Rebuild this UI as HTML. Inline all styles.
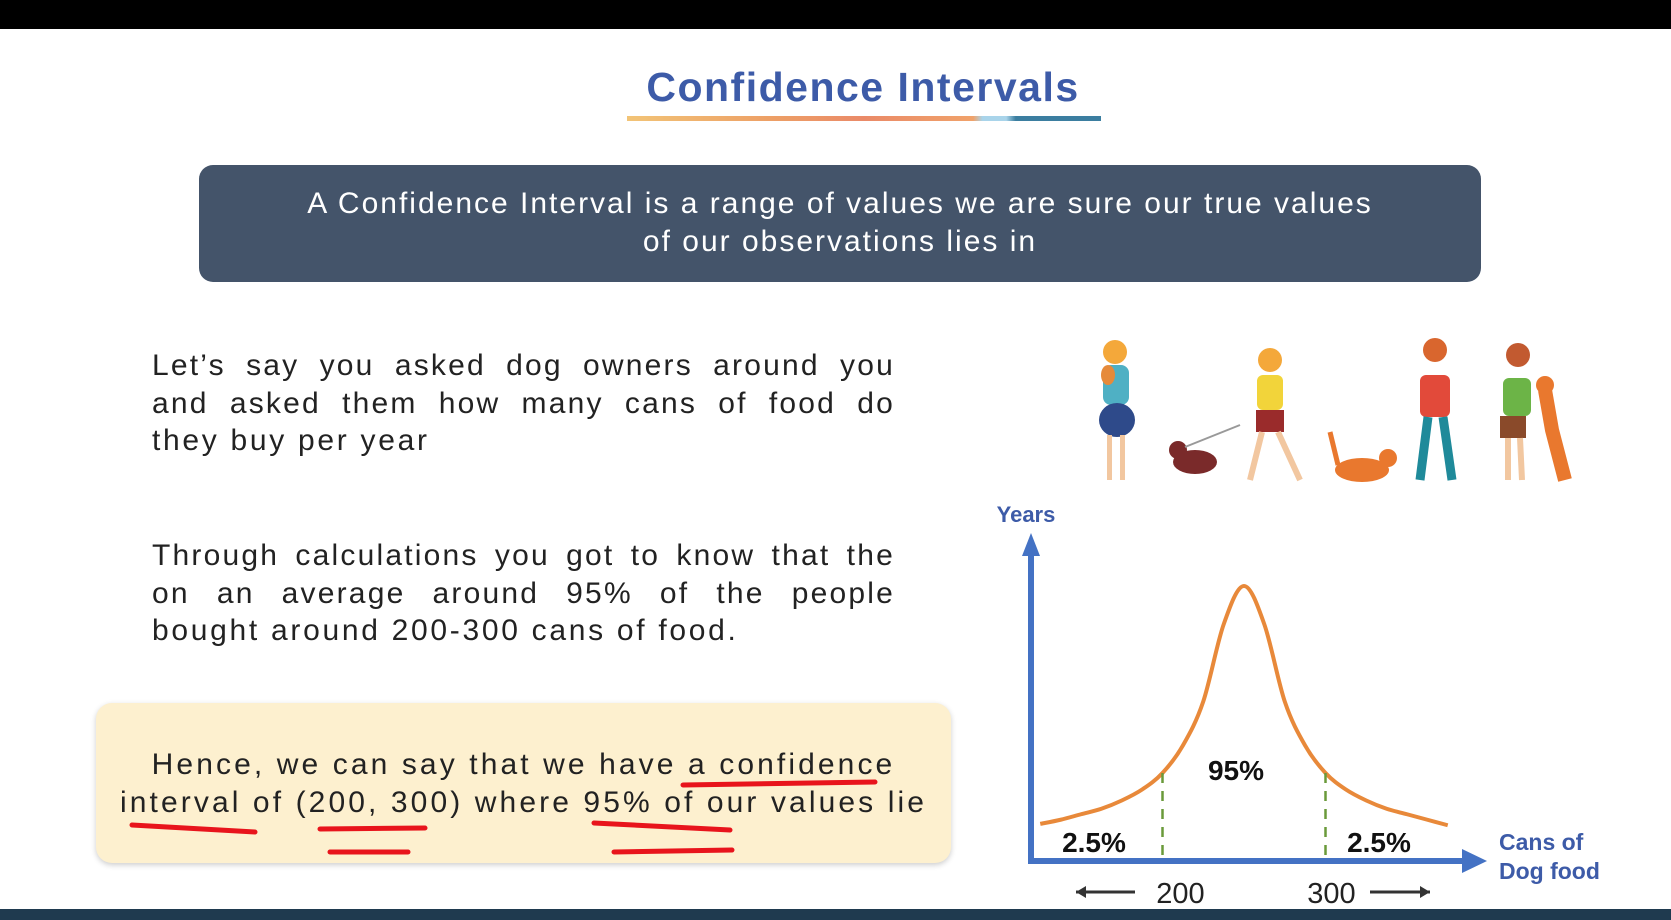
<!DOCTYPE html>
<html><head><meta charset="utf-8"><style>
body{margin:0;width:1671px;height:920px;overflow:hidden;background:#fff;position:relative;font-family:"Liberation Sans",sans-serif}
.abs{position:absolute}
.p{position:absolute;left:152px;width:743px;font-size:30px;line-height:37.5px;color:#222;letter-spacing:2.2px}
.p span{display:block;text-align:justify;text-align-last:justify;white-space:nowrap}
.p span.last{text-align-last:left;letter-spacing:2.7px}
</style></head><body>
<div class="abs" style="left:0;top:0;width:1671px;height:29px;background:#000"></div>
<div class="abs" style="left:513px;top:64px;width:700px;text-align:center;font-size:41px;letter-spacing:1.5px;font-weight:bold;color:#3d5ba8">Confidence Intervals</div>
<div class="abs" style="left:627px;top:116px;width:474px;height:5px;background:linear-gradient(90deg,#f2c477 0%,#eda066 30%,#ea8a68 50%,#f0a26a 73%,#a9d4ea 75%,#a9d4ea 80%,#3b7ea0 82%,#3b7ea0 100%)"></div>
<div class="abs" style="left:199px;top:165px;width:1282px;height:117px;background:#44546a;border-radius:14px;color:#fff;text-align:center;font-size:30px;line-height:38px;box-sizing:border-box;padding-top:20px;letter-spacing:2px;white-space:nowrap">A Confidence Interval is a range of values we are sure our true values<br>of our observations lies in</div>
<div class="p" style="top:347px"><span>Let’s say you asked dog owners around you</span><span>and asked them how many cans of food do</span><span class="last">they buy per year</span></div>
<div class="p" style="top:537px"><span>Through calculations you got to know that the</span><span>on an average around 95% of the people</span><span class="last">bought around 200-300 cans of food.</span></div>
<div class="abs" style="left:96px;top:703px;width:855px;height:160px;background:#fdf0cf;border-radius:16px;box-shadow:0 2px 6px rgba(0,0,0,0.2)"></div>
<div class="abs" style="left:46px;top:746px;width:955px;text-align:center;font-size:30px;line-height:37.5px;color:#222;letter-spacing:3.1px;white-space:nowrap">Hence, we can say that we have a confidence<br>interval of (200, 300) where 95% of our values lie</div>
<svg class="abs" style="left:0;top:0" width="1671" height="920">
<g stroke="#e8141c" stroke-width="5" stroke-linecap="round" fill="none">
<path d="M683 785 L875 782"/><path d="M132 825 L255 832"/><path d="M320 829 L425 828"/><path d="M330 852 L408 852"/><path d="M594 823 L730 830"/><path d="M614 852 L732 850"/>
</g></svg>
<svg class="abs" style="left:0;top:0" width="1671" height="920">
<g><circle cx="1115" cy="352" r="12" fill="#f4a83a"/><rect x="1103" y="365" width="26" height="40" rx="8" fill="#4fb0c4"/><ellipse cx="1117" cy="420" rx="18" ry="17" fill="#2e4a8a"/><rect x="1107" y="435" width="5" height="45" fill="#f2c7a0"/><rect x="1120" y="435" width="5" height="45" fill="#f2c7a0"/><ellipse cx="1108" cy="375" rx="7" ry="10" fill="#e68a3a"/></g>
<g><ellipse cx="1195" cy="462" rx="22" ry="12" fill="#7a2a2a"/><circle cx="1178" cy="450" r="9" fill="#7a2a2a"/><line x1="1185" y1="447" x2="1240" y2="425" stroke="#999" stroke-width="2"/></g>
<g><circle cx="1270" cy="360" r="12" fill="#f4a83a"/><rect x="1257" y="375" width="26" height="35" rx="6" fill="#f2d43a"/><rect x="1256" y="410" width="28" height="22" fill="#9a2b2b"/><path d="M1262 432 L1250 480 M1278 432 L1300 480" stroke="#f2c7a0" stroke-width="6"/></g>
<g><ellipse cx="1362" cy="470" rx="27" ry="12" fill="#e9782e"/><circle cx="1388" cy="458" r="9" fill="#e9782e"/><path d="M1338 465 L1330 432" stroke="#e9782e" stroke-width="5"/></g>
<g><circle cx="1435" cy="350" r="12" fill="#d9662e"/><rect x="1420" y="375" width="30" height="42" rx="6" fill="#e24a3a"/><path d="M1428 417 L1420 480 M1443 417 L1452 480" stroke="#1f8a9a" stroke-width="9"/></g>
<g><circle cx="1518" cy="355" r="12" fill="#c25a30"/><rect x="1503" y="378" width="28" height="38" rx="6" fill="#6cb447"/><rect x="1500" y="416" width="26" height="22" fill="#8a4a2a"/><path d="M1508 438 L1508 480 M1520 438 L1522 480" stroke="#f2c7a0" stroke-width="6"/><path d="M1545 390 L1552 430 L1565 480" stroke="#e9782e" stroke-width="14" fill="none"/><circle cx="1545" cy="385" r="9" fill="#e9782e"/></g>
</svg>
<svg id="chart" class="abs" style="left:0;top:0" width="1671" height="920"></svg>
<div class="abs" style="left:0;top:909px;width:1671px;height:11px;background:#1f3a4f"></div>
<script>
const cans=[125,137.5,150,162.5,175,187.5,200,212.5,225,237.5,250,262.5,275,287.5,300,312.5,325,337.5,350,362.5,375];
const density=[13.5,15,17,19,22,26,32,42,58,86,100,86,58,42,32,26,22,19,17,15,13];
const bounds=[200,300];
const tailLabels=["2.5%","95%","2.5%"];
const NS="http://www.w3.org/2000/svg";
const svg=document.getElementById('chart');
const X=v=>1244+(v-250)*1.63;
const Y=v=>861-v*2.75;
function mk(t,a){const e=document.createElementNS(NS,t);for(const k in a)e.setAttribute(k,a[k]);svg.appendChild(e);return e;}
let e=mk('path',{d:'M1031 861 L1031 548',stroke:'#4472c4','stroke-width':6,fill:'none'});


e=mk('path',{d:'M1022 556 L1031 533 L1040 556 Z',fill:'#4472c4'});


e=mk('path',{d:'M1028 861 L1465 861',stroke:'#4472c4','stroke-width':6,fill:'none'});


e=mk('path',{d:'M1462 849 L1487 861 L1462 873 Z',fill:'#4472c4'});


const pts=cans.map((c,i)=>[X(c),Y(density[i])]);
let d='M'+pts[0][0]+' '+pts[0][1];
for(let i=0;i<pts.length-1;i++){const p0=pts[i-1]||pts[i],p1=pts[i],p2=pts[i+1],p3=pts[i+2]||p2;
d+=` C${p1[0]+(p2[0]-p0[0])/6} ${p1[1]+(p2[1]-p0[1])/6} ${p2[0]-(p3[0]-p1[0])/6} ${p2[1]-(p3[1]-p1[1])/6} ${p2[0]} ${p2[1]}`;}
e=mk('path',{d:d,stroke:'#e8893a','stroke-width':4,fill:'none'});


bounds.forEach((b,i)=>{const ci=cans.indexOf(b);
e=mk('line',{x1:X(b),x2:X(b),y1:Y(density[ci]),y2:858,stroke:'#6a9a3a','stroke-width':2.5,'stroke-dasharray':'10 8'});


e=mk('text',{x:X(b)+(i?6:18),y:903,'font-size':29,fill:'#222','text-anchor':'middle'});e.textContent=b;


});
function arrow(x1,x2,name){e=mk('path',{d:`M${x1} 892 L${x2} 892`,stroke:'#333','stroke-width':3});


const s=x2>x1?-1:1;e=mk('path',{d:`M${x2} 892 L${x2+s*10} 886 L${x2+s*10} 898 Z`,fill:'#333'});

}
arrow(1135,1076,'left-arrow');arrow(1370,1430,'right-arrow');
const lx=[1094,1236,1379],ly=[852,780,852];
tailLabels.forEach((t,i)=>{e=mk('text',{x:lx[i],y:ly[i],'font-size':28,'font-weight':'bold',fill:'#111','text-anchor':'middle'});e.textContent=t;

});
e=mk('text',{x:1026,y:522,'font-size':22,'font-weight':'bold',fill:'#3d5ba8','text-anchor':'middle'});e.textContent='Years';


e=mk('text',{x:1499,y:850,'font-size':23,'font-weight':'bold',fill:'#3d5ba8'});e.textContent='Cans of';


e=mk('text',{x:1499,y:879,'font-size':23,'font-weight':'bold',fill:'#3d5ba8'});e.textContent='Dog food';


</script>
</body></html>
